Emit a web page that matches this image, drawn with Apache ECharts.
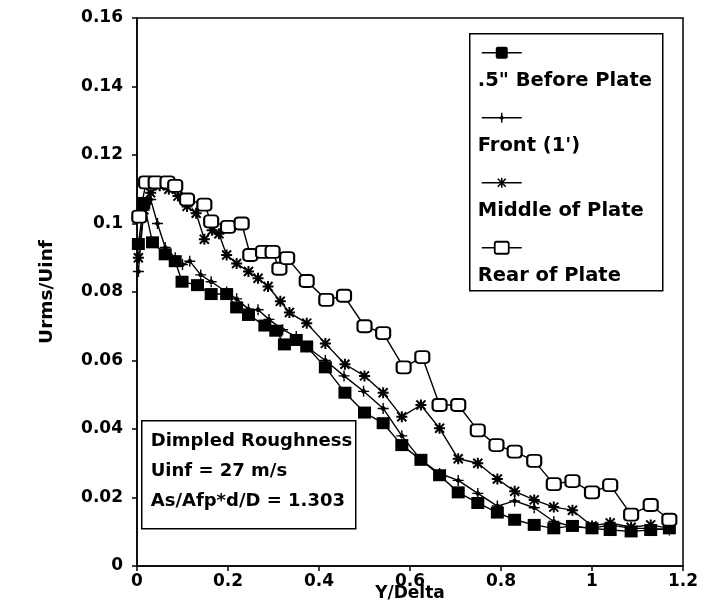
<!DOCTYPE html>
<html>
<head>
<meta charset="utf-8">
<script src="https://cdn.jsdelivr.net/npm/echarts@6/dist/echarts.min.js"></script>
<style>
  html, body { margin: 0; padding: 0; background: #fff; }
  #chart { width: 714px; height: 602px; }
</style>
</head>
<body>
<div id="chart"></div>
<script>
// Turbulence intensity profiles over a dimpled plate
const seriesNames = ['.5" Before Plate', "Front (1')", 'Middle of Plate', 'Rear of Plate'];

const beforePlate = [
  [0.003,0.094],[0.015,0.106],[0.034,0.0945],[0.062,0.091],[0.084,0.089],[0.099,0.083],
  [0.133,0.082],[0.163,0.0794],[0.197,0.0794],[0.219,0.0755],[0.245,0.0733],[0.281,0.0702],
  [0.305,0.0687],[0.324,0.0647],[0.35,0.066],[0.373,0.0641],[0.414,0.058],[0.457,0.0506],
  [0.5,0.0448],[0.541,0.0417],[0.582,0.0353],[0.624,0.031],[0.665,0.0265],[0.706,0.0215],
  [0.749,0.0184],[0.792,0.0156],[0.83,0.0135],[0.873,0.012],[0.916,0.011],[0.957,0.0117],
  [1.0,0.011],[1.04,0.0105],[1.086,0.0101],[1.129,0.0105],[1.17,0.011]
];

const frontPlate = [
  [0.003,0.086],[0.015,0.104],[0.03,0.107],[0.045,0.1],[0.062,0.093],[0.084,0.09],
  [0.1,0.088],[0.116,0.089],[0.14,0.085],[0.163,0.083],[0.197,0.08],[0.219,0.078],
  [0.245,0.075],[0.266,0.0748],[0.29,0.072],[0.32,0.069],[0.35,0.067],[0.373,0.064],
  [0.414,0.06],[0.455,0.0555],[0.498,0.051],[0.541,0.046],[0.582,0.038],[0.624,0.031],
  [0.665,0.027],[0.706,0.025],[0.749,0.0212],[0.792,0.0175],[0.83,0.019],[0.873,0.017],
  [0.916,0.013],[0.957,0.0115],[1.0,0.011],[1.04,0.012],[1.086,0.011],[1.129,0.011],[1.17,0.0105]
];

const middlePlate = [
  [0.003,0.09],[0.015,0.104],[0.03,0.109],[0.05,0.111],[0.07,0.11],[0.09,0.108],
  [0.11,0.105],[0.13,0.103],[0.148,0.0954],[0.165,0.098],[0.18,0.097],[0.197,0.0908],
  [0.219,0.0883],[0.245,0.086],[0.266,0.084],[0.288,0.0816],[0.315,0.0773],[0.335,0.074],
  [0.373,0.0709],[0.414,0.065],[0.457,0.0589],[0.5,0.0555],[0.541,0.0506],[0.582,0.0436],
  [0.624,0.047],[0.665,0.0402],[0.706,0.0313],[0.749,0.03],[0.792,0.0254],[0.83,0.0218],
  [0.873,0.0193],[0.916,0.0172],[0.957,0.0163],[1.0,0.0117],[1.04,0.0126],[1.086,0.0113],
  [1.129,0.012],[1.17,0.011]
];

const rearPlate = [
  [0.005,0.102],[0.02,0.112],[0.041,0.112],[0.067,0.112],[0.084,0.111],[0.11,0.107],
  [0.148,0.1055],[0.163,0.1006],[0.2,0.099],[0.23,0.1],[0.249,0.0908],[0.277,0.0917],
  [0.298,0.0917],[0.313,0.0868],[0.33,0.0899],[0.373,0.0832],[0.416,0.0777],[0.455,0.0789],
  [0.5,0.07],[0.541,0.068],[0.586,0.058],[0.627,0.061],[0.665,0.047],[0.706,0.047],
  [0.749,0.0396],[0.79,0.0353],[0.83,0.0334],[0.873,0.0307],[0.916,0.0239],[0.957,0.0248],
  [1.0,0.0215],[1.04,0.0236],[1.086,0.015],[1.129,0.0178],[1.17,0.0135]
];

const noteLines = ['Dimpled Roughness', 'Uinf = 27 m/s', 'As/Afp*d/D = 1.303'];

const FONT = '"DejaVu Sans", sans-serif';
const INK = '#000';

// marker glyphs
const plusPath = 'path://M5,0L5,10M0,5L10,5M5,3L7,5L5,7L3,5Z';
const starPath = 'path://M0.5,0.5L9.5,9.5M9.5,0.5L0.5,9.5M5,-0.5L5,10.5M-0.5,5L10.5,5';

const markerStyles = [
  { symbol: 'rect', symbolSize: [13, 12], itemStyle: { color: INK, borderColor: INK, borderWidth: 0 } },
  { symbol: plusPath, symbolSize: [11, 11], itemStyle: { color: INK, borderColor: INK, borderWidth: 1.4 } },
  { symbol: starPath, symbolSize: [11, 11], itemStyle: { color: INK, borderColor: INK, borderWidth: 2 } },
  { symbol: 'roundRect', symbolSize: [14, 12], itemStyle: { color: '#fff', borderColor: INK, borderWidth: 2 } }
];

const seriesData = [beforePlate, frontPlate, middlePlate, rearPlate];

const series = seriesData.map((d, i) => ({
  name: seriesNames[i],
  type: 'line',
  data: d,
  symbol: markerStyles[i].symbol,
  symbolSize: markerStyles[i].symbolSize,
  itemStyle: markerStyles[i].itemStyle,
  lineStyle: { color: INK, width: 1.4 },
  showAllSymbol: true,
  animation: false,
  z: 2 + i
}));

// legend box: line sample above each label
function legendGlyph(i, cx, cy) {
  const s = [];
  s.push({ type: 'line', shape: { x1: cx - 20, y1: cy, x2: cx + 20, y2: cy }, style: { stroke: INK, lineWidth: 1.3 } });
  if (i === 0) {
    s.push({ type: 'rect', shape: { x: cx - 6, y: cy - 6, width: 12, height: 12, r: 2 }, style: { fill: INK } });
  } else if (i === 1) {
    s.push({ type: 'line', shape: { x1: cx, y1: cy - 5, x2: cx, y2: cy + 5 }, style: { stroke: INK, lineWidth: 1.4 } });
    s.push({ type: 'polygon', shape: { points: [[cx, cy - 2.5], [cx + 2.5, cy], [cx, cy + 2.5], [cx - 2.5, cy]] }, style: { fill: INK } });
  } else if (i === 2) {
    [[-4, -4, 4, 4], [4, -4, -4, 4], [0, -5, 0, 5]].forEach(p => {
      s.push({ type: 'line', shape: { x1: cx + p[0], y1: cy + p[1], x2: cx + p[2], y2: cy + p[3] }, style: { stroke: INK, lineWidth: 1.6 } });
    });
  } else {
    s.push({ type: 'rect', shape: { x: cx - 7, y: cy - 6, width: 14, height: 12, r: 2 }, style: { fill: '#fff', stroke: INK, lineWidth: 1.8 } });
  }
  return s;
}

const legendChildren = [
  { type: 'rect', shape: { x: 0, y: 0, width: 193, height: 257 }, style: { fill: '#fff', stroke: INK, lineWidth: 1.5 } }
];
seriesNames.forEach((n, i) => {
  const cy = 19 + i * 65;
  legendGlyph(i, 32, cy).forEach(e => legendChildren.push(e));
  legendChildren.push({
    type: 'text', x: 8, y: cy + 28,
    style: { text: n, fill: INK, font: 'bold 19.5px ' + FONT, textVerticalAlign: 'middle' }
  });
});

const noteChildren = [
  { type: 'rect', shape: { x: 0, y: 0, width: 214, height: 108 }, style: { fill: '#fff', stroke: INK, lineWidth: 1.5 } }
];
noteLines.forEach((t, i) => {
  noteChildren.push({
    type: 'text', x: 9, y: 21 + i * 30,
    style: { text: t, fill: INK, font: 'bold 18px ' + FONT, textVerticalAlign: 'middle' }
  });
});

const axisText = { color: INK, fontFamily: FONT, fontWeight: 'bold', fontSize: 17 };

const option = {
  backgroundColor: '#fff',
  animation: false,
  grid: {
    left: 137, right: 31, top: 18, bottom: 36,
    outerBoundsMode: 'none', containLabel: false,
    show: true, borderColor: INK, borderWidth: 1.5
  },
  xAxis: {
    type: 'value', min: 0, max: 1.2, interval: 0.2,
    name: 'Y/Delta', nameLocation: 'middle', nameGap: 19, nameMoveOverlap: false,
    nameTextStyle: axisText,
    axisLine: { show: true, lineStyle: { color: INK, width: 1.5 } },
    axisTick: { show: true, length: 5, lineStyle: { color: INK, width: 1.5 } },
    axisLabel: Object.assign({ margin: 7, formatter: v => String(+v.toFixed(1)) }, axisText),
    splitLine: { show: false }
  },
  yAxis: {
    type: 'value', min: 0, max: 0.16, interval: 0.02,
    name: 'Urms/Uinf', nameLocation: 'middle', nameGap: 80, nameRotate: 90, nameMoveOverlap: false,
    nameTextStyle: Object.assign({}, axisText, { fontSize: 18.5 }),
    axisLine: { show: true, lineStyle: { color: INK, width: 1.5 } },
    axisTick: { show: true, length: 5, lineStyle: { color: INK, width: 1.5 } },
    axisLabel: Object.assign({ margin: 14, formatter: v => String(+v.toFixed(2)) }, axisText),
    splitLine: { show: false }
  },
  series: series,
  graphic: [
    { type: 'group', left: 469, top: 33, z: 100, children: legendChildren },
    { type: 'group', left: 141, top: 420, z: 100, children: noteChildren }
  ]
};

const chart = echarts.init(document.getElementById('chart'), null, { renderer: 'canvas' });
chart.setOption(option);
</script>
</body>
</html>
